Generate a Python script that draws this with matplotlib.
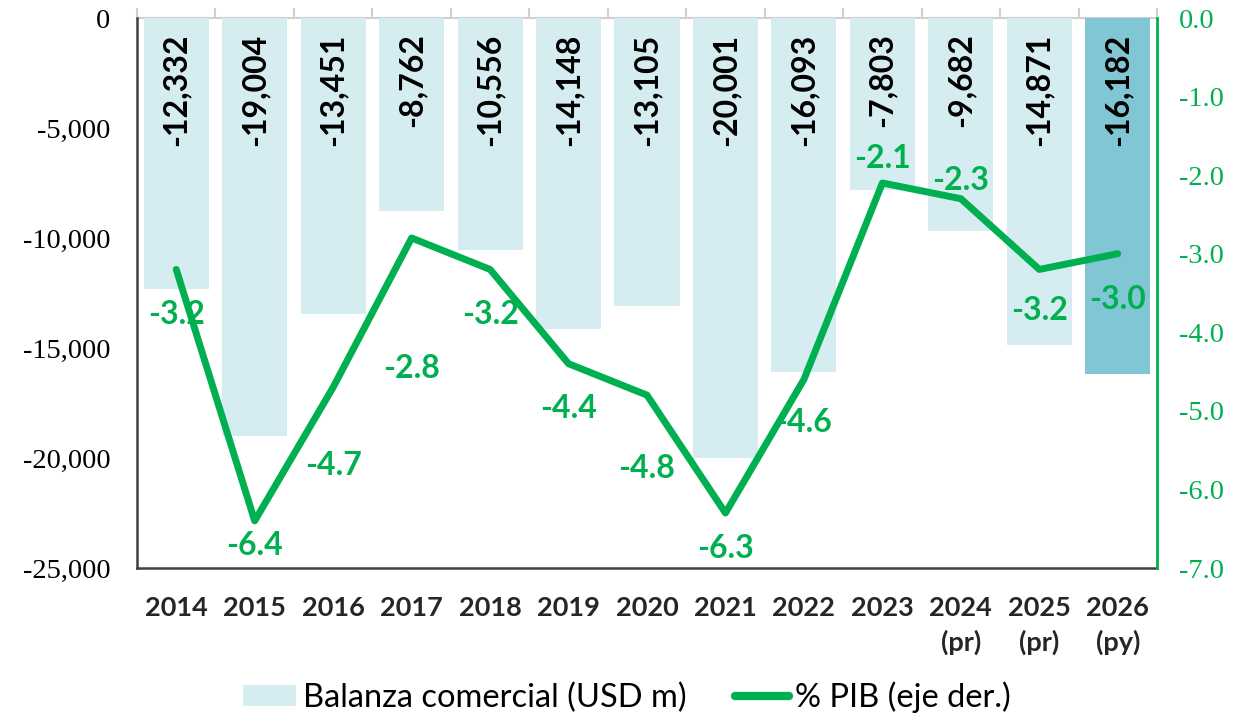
import matplotlib
matplotlib.use("Agg")
import matplotlib.pyplot as plt
import numpy as np
from matplotlib.ticker import FuncFormatter
from matplotlib.patches import Patch
from matplotlib.lines import Line2D

categories = ["2014", "2015", "2016", "2017", "2018", "2019", "2020", "2021",
              "2022", "2023", "2024\n(pr)", "2025\n(pr)", "2026\n(py)"]
balanza = [-12332, -19004, -13451, -8762, -10556, -14148, -13105, -20001,
           -16093, -7803, -9682, -14871, -16182]
pib = [-3.2, -6.4, -4.7, -2.8, -3.2, -4.4, -4.8, -6.3, -4.6, -2.1, -2.3, -3.2, -3.0]
# label offsets (pixels, vertical) for the % PIB labels
pib_label_dy = [-45, -25, -78, -130, -45, -45, -73, -36, -43, 25, 18, -41, -46]

light = "#d5ecf0"
dark = "#80c6d5"
green = "#00b050"
sans = ["Lato", "DejaVu Sans"]
serif = ["Liberation Serif", "DejaVu Serif"]

fig = plt.figure(figsize=(12.43, 7.17), dpi=100)
ax = fig.add_axes([137/1243, 1 - 568/717, (1157-137)/1243, (568-18)/717])
x = np.arange(len(categories))
colors = [light] * (len(categories) - 1) + [dark]
ax.bar(x, balanza, width=0.83, color=colors, zorder=2)
ax.set_xlim(-0.5, len(categories) - 0.5)
ax.set_ylim(-25000, 0)
ax.set_yticks(np.arange(-25000, 1, 5000))
ax.yaxis.set_major_formatter(FuncFormatter(lambda v, p: f"{int(v):,}"))
for lab in ax.get_yticklabels():
    lab.set_fontfamily(serif)
    lab.set_fontsize(20.5)
ax.tick_params(axis="y", length=0, pad=19, labelcolor="#000000")
ax.set_xticks(x)
ax.set_xticklabels(categories, fontfamily=sans, fontweight="bold", fontsize=19.5,
                   color="#262626", linespacing=1.45)
ax.tick_params(axis="x", length=0, pad=20)

for s in ["left", "bottom"]:
    ax.spines[s].set_color("#404040")
    ax.spines[s].set_linewidth(1.8)
ax.spines["top"].set_visible(False)
ax.spines["right"].set_visible(False)

# top category axis at zero with boundary ticks
top = ax.secondary_xaxis("top")
top.set_xticks(np.arange(-0.5, len(categories), 1.0))
top.set_xticklabels([])
top.tick_params(length=7, width=1.5, color="#d0d0d0", direction="out")
top.spines["top"].set_color("#d0d0d0")
top.spines["top"].set_linewidth(1.5)

for xi, v in zip(x, balanza):
    ax.text(xi, -700, f"{v:,}", rotation=90, ha="center", va="top",
            fontfamily=sans, fontweight="bold", fontsize=23, color="#000000", zorder=3)

ax2 = ax.twinx()
ax2.set_ylim(-7.0, 0.0)
ax2.set_yticks(np.arange(-7.0, 0.01, 1.0))
ax2.yaxis.set_major_formatter(FuncFormatter(lambda v, p: f"{v:.1f}" if abs(v) > 1e-9 else "0.0"))
for lab in ax2.get_yticklabels():
    lab.set_fontfamily(serif)
    lab.set_fontsize(20.5)
ax2.tick_params(axis="y", length=0, pad=16, labelcolor=green)
ax2.spines["right"].set_color(green)
ax2.spines["right"].set_linewidth(2)
for s in ["left", "top", "bottom"]:
    ax2.spines[s].set_visible(False)
ax2.plot(x, pib, color=green, linewidth=5, solid_capstyle="round", solid_joinstyle="round", zorder=4)
for xi, v, dy in zip(x, pib, pib_label_dy):
    ax2.annotate(f"{v:.1f}", (xi, v), xytext=(0, dy), textcoords="offset pixels",
                 ha="center", va="center", fontfamily=sans, fontweight="bold",
                 fontsize=23, color=green, zorder=5)

handles = [Patch(facecolor=light, edgecolor="none"),
           Line2D([0], [0], color=green, linewidth=6, solid_capstyle="round")]
fig.legend(handles, ["Balanza comercial (USD m)", "% PIB (eje der.)"],
           loc="center", bbox_to_anchor=(627/1243, 1 - 697/717), ncol=2, frameon=False,
           prop={"family": sans, "size": 23.5}, handlelength=1.63, handleheight=0.63,
           columnspacing=1.5, handletextpad=0.2, borderpad=0)

fig.savefig("out.png", dpi=100)
